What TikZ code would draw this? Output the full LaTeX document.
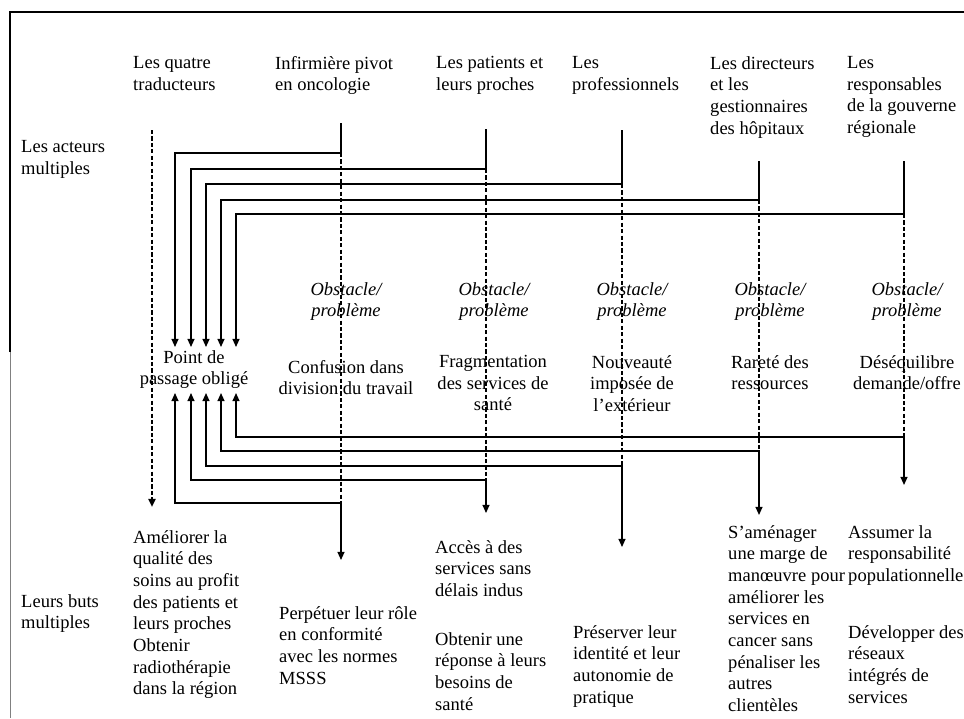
\documentclass[tikz,border=0pt]{standalone}
\usepackage{fontspec}
\setmainfont{Liberation Serif}
\usetikzlibrary{arrows.meta}
\begin{document}
\begin{tikzpicture}[x=0.3mm, y=-0.3mm,
            font=\fontsize{15.8}{18.5}\selectfont,
            >={Triangle[length=7pt, width=6pt]},
            lbl/.style={anchor=north west, align=left, inner sep=0pt},
            obst/.style={anchor=north, align=center, inner sep=0pt, font=\fontsize{15.8}{18.5}\selectfont\itshape},
            prob/.style={anchor=north, align=center, inner sep=0pt},
            link/.style={line width=1.2pt},
            dashln/.style={line width=1.8pt, dash pattern=on 3.5pt off 2pt}
        ]
            \useasboundingbox (0,0) rectangle (964,718);
            % frame
            \draw[line width=1.6pt] (10,352) -- (10,12) -- (964,12);
            \draw[line width=0.6pt, gray] (10.5,352) -- (10.5,718);

            % actors
            \node[lbl] (acteurs) at (21,140) {Les acteurs\\multiples};
            \node[lbl] (h1) at (133,56) {Les quatre\\traducteurs};
            \node[lbl] (h2) at (275,56) {Infirmière pivot\\en oncologie};
            \node[lbl] (h3) at (436,56) {Les patients et\\leurs proches};
            \node[lbl] (h4) at (572,56) {Les\\professionnels};
            \node[lbl] (h5) at (710,56) {Les directeurs\\et les\\gestionnaires\\des hôpitaux};
            \node[lbl] (h6) at (847,56) {Les\\responsables\\de la gouverne\\régionale};

            % point de passage obligé
            \node[prob] (ppo) at (194,350) {Point de\\passage obligé};

            % obstacles
            \node[obst] (o2) at (346,282) {Obstacle/\\problème};
            \node[obst] (o3) at (494,282) {Obstacle/\\problème};
            \node[obst] (o4) at (632,282) {Obstacle/\\problème};
            \node[obst] (o5) at (770,282) {Obstacle/\\problème};
            \node[obst] (o6) at (907,282) {Obstacle/\\problème};
            \node[prob] (p2) at (346,360) {Confusion dans\\division du travail};
            \node[prob] (p3) at (493,355) {Fragmentation\\des services de\\santé};
            \node[prob] (p4) at (632,355) {Nouveauté\\imposée de\\l’extérieur};
            \node[prob] (p5) at (770,355) {Rareté des\\ressources};
            \node[prob] (p6) at (907,355) {Déséquilibre\\demande/offre};

            % goals
            \node[lbl] (buts) at (21,594) {Leurs buts\\multiples};
            \node[lbl] (b1) at (133,530) {Améliorer la\\qualité des\\soins au profit\\des patients et\\leurs proches\\Obtenir\\radiothérapie\\dans la région};
            \node[lbl] (b2) at (279,606) {Perpétuer leur rôle\\en conformité\\avec les normes\\MSSS};
            \node[lbl] (b3) at (435,540) {Accès à des\\services sans\\délais indus};
            \node[lbl] (b3b) at (435,632) {Obtenir une\\réponse à leurs\\besoins de\\santé};
            \node[lbl] (b4) at (573,625) {Préserver leur\\identité et leur\\autonomie de\\pratique};
            \node[lbl] (b5) at (728,525) {S’aménager\\une marge de\\manœuvre pour\\améliorer les\\services en\\cancer sans\\pénaliser les\\autres\\clientèles};
            \node[lbl] (b6) at (848,525) {Assumer la\\responsabilité\\populationnelle};
            \node[lbl] (b6b) at (848,625) {Développer des\\réseaux\\intégrés de\\services};

            % line ends
            \coordinate (t1) at (152,130);  \coordinate (g1) at (152,507);
            \coordinate (t2) at (341,123);  \coordinate (k2) at (341,153);
            \coordinate (m2) at (341,503);  \coordinate (g2) at (341,560);
            \coordinate (t3) at (486,129);  \coordinate (k3) at (486,169);
            \coordinate (m3) at (486,480);  \coordinate (g3) at (486,513);
            \coordinate (t4) at (622,130);  \coordinate (k4) at (622,184);
            \coordinate (m4) at (622,466);  \coordinate (g4) at (622,547);
            \coordinate (t5) at (759,161);  \coordinate (k5) at (759,200);
            \coordinate (m5) at (759,451);  \coordinate (g5) at (759,515);
            \coordinate (t6) at (904,161);  \coordinate (k6) at (904,214);
            \coordinate (m6) at (904,437);  \coordinate (g6) at (904,485);
            \coordinate (in1) at (175,347); \coordinate (out1) at (175,393);
            \coordinate (in2) at (191,347); \coordinate (out2) at (191,393);
            \coordinate (in3) at (206,347); \coordinate (out3) at (206,393);
            \coordinate (in4) at (221,347); \coordinate (out4) at (221,393);
            \coordinate (in5) at (236,347); \coordinate (out5) at (236,393);

            % actors to point de passage
            \draw[dashln, ->] (t1) -- (g1);
            \draw[link, ->] (t2) -- (k2) -| (in1);
            \draw[link, ->] (t3) -- (k3) -| (in2);
            \draw[link, ->] (t4) -- (k4) -| (in3);
            \draw[link, ->] (t5) -- (k5) -| (in4);
            \draw[link, ->] (t6) -- (k6) -| (in5);
            \draw[dashln] (k2) -- (m2) (k3) -- (m3) (k4) -- (m4) (k5) -- (m5) (k6) -- (m6);

            % point de passage to goals
            \draw[link, <->] (out1) |- (m2) -- (g2);
            \draw[link, <->] (out2) |- (m3) -- (g3);
            \draw[link, <->] (out3) |- (m4) -- (g4);
            \draw[link, <->] (out4) |- (m5) -- (g5);
            \draw[link, <->] (out5) |- (m6) -- (g6);
        \end{tikzpicture}
\end{document}
